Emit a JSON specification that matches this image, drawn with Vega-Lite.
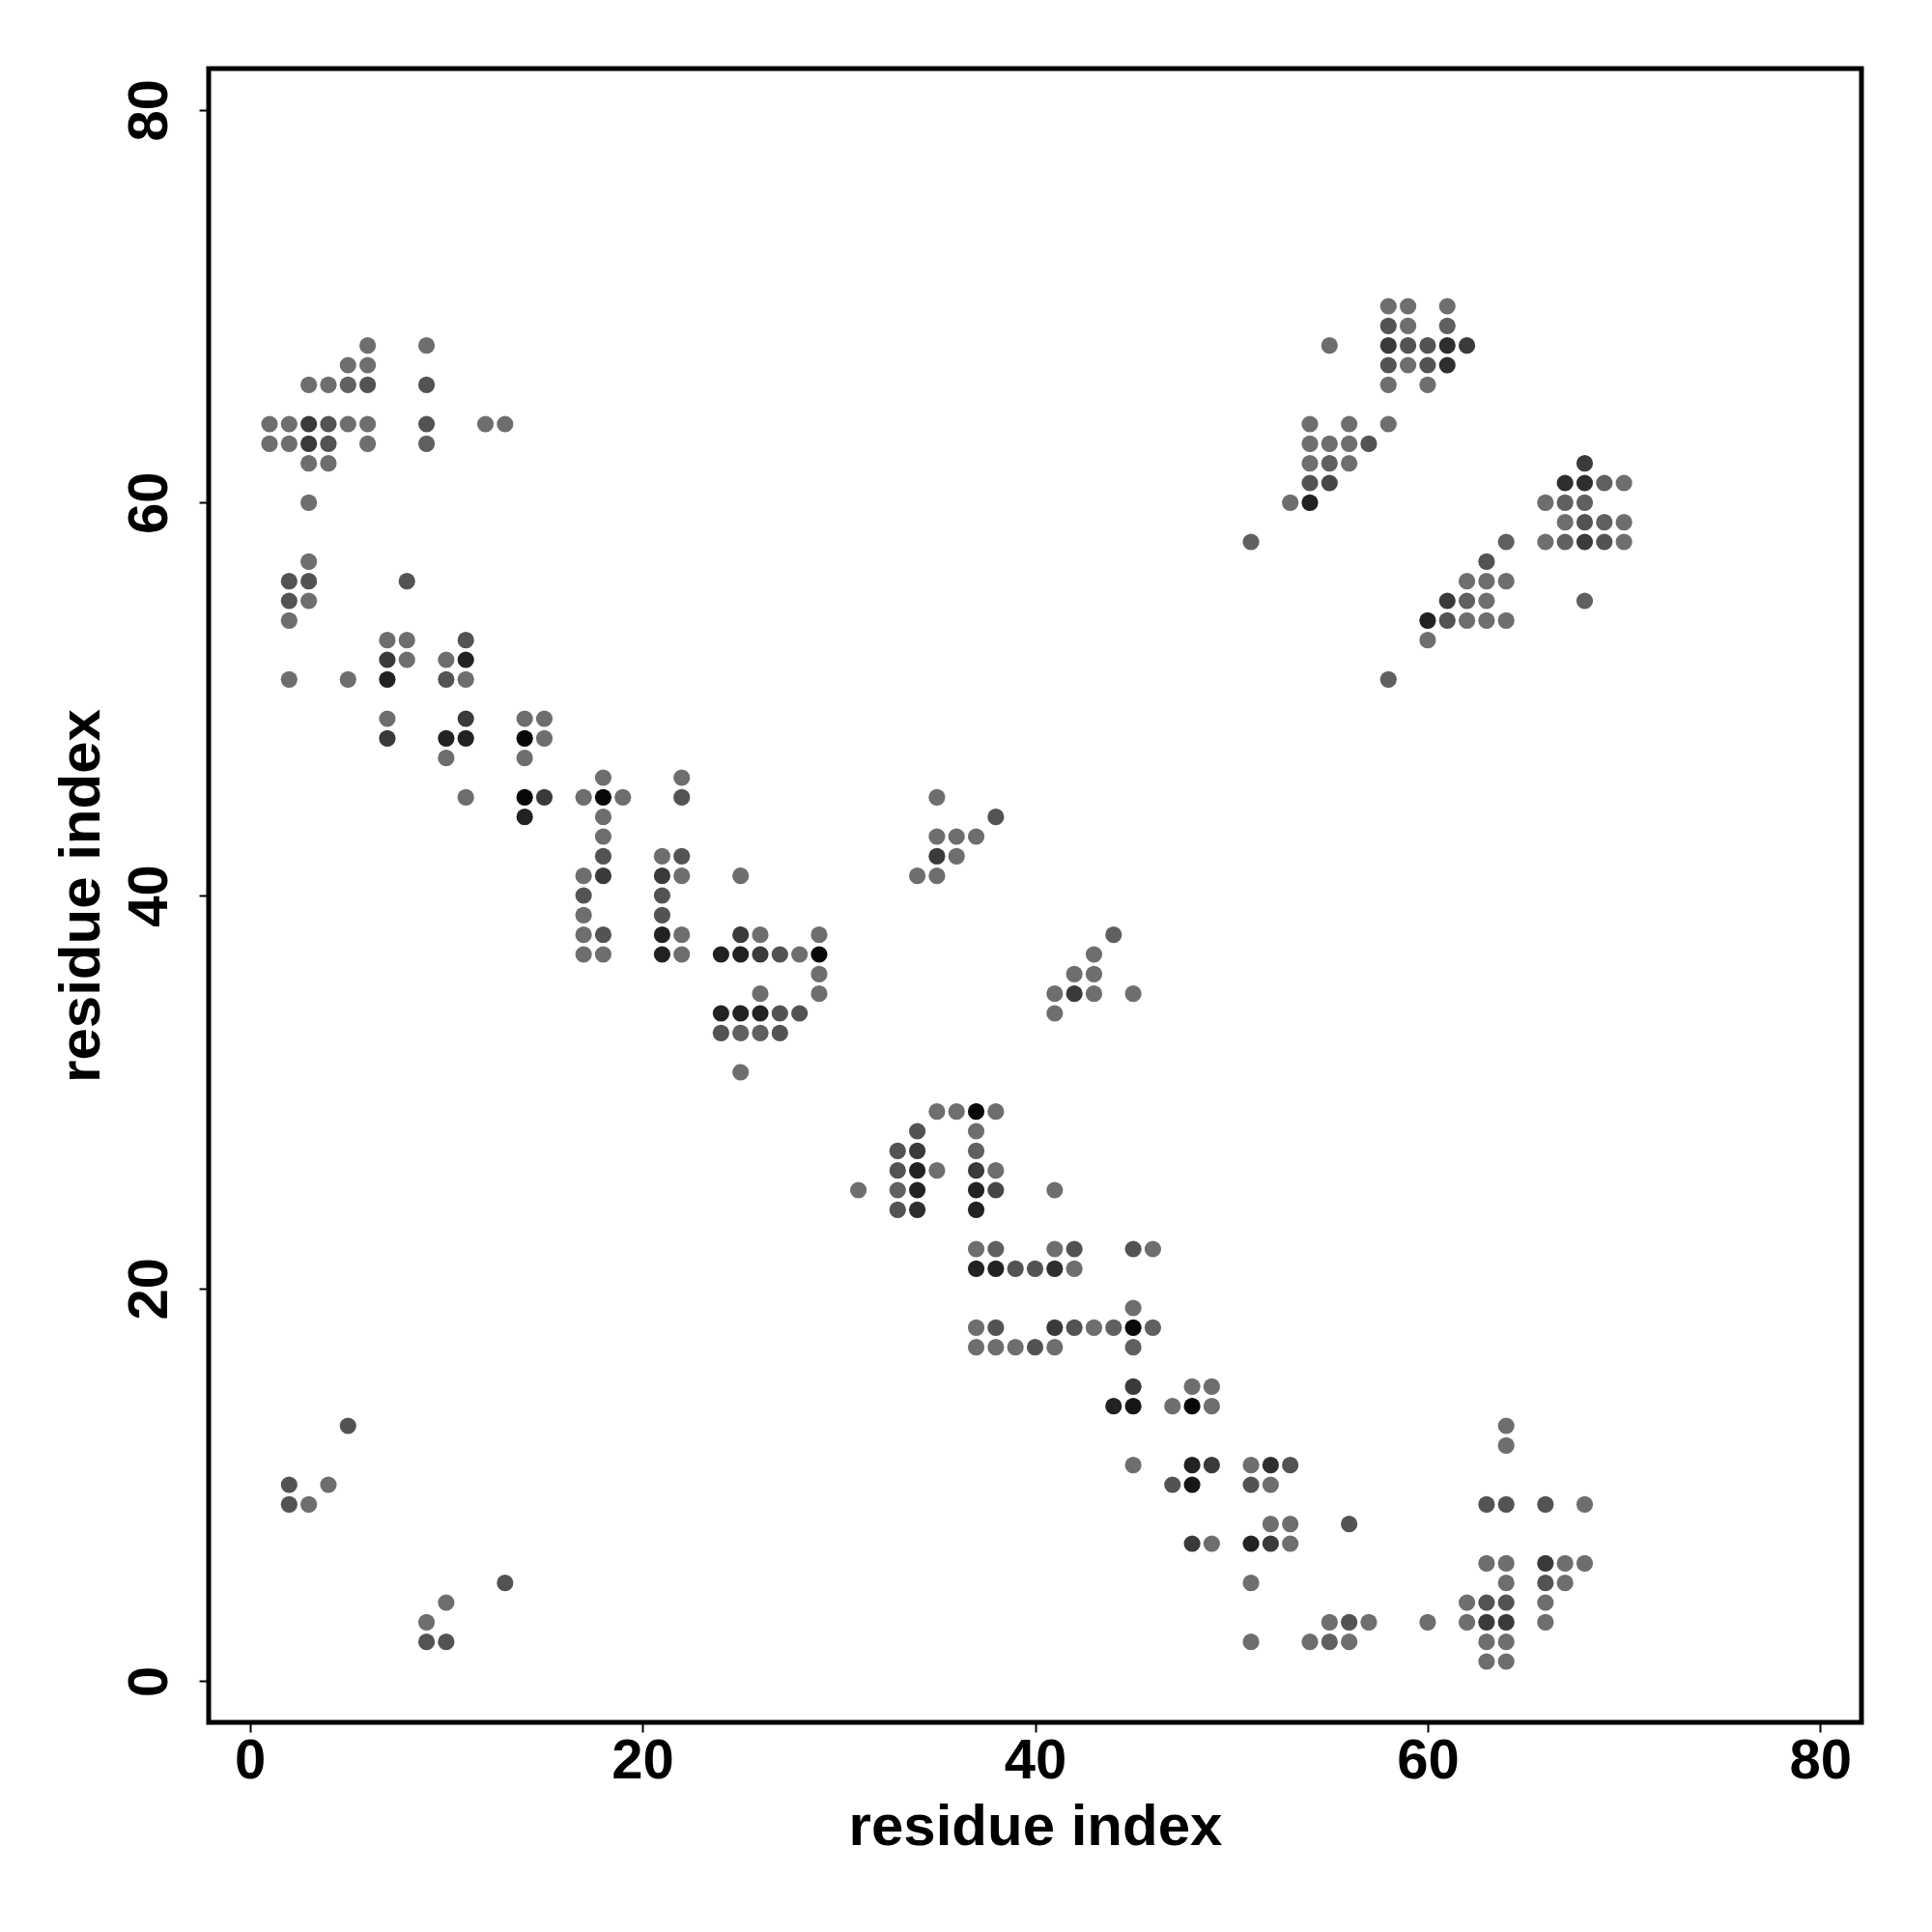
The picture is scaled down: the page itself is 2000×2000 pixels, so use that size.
{
"$schema": "https://vega.github.io/schema/vega-lite/v6.json",
"width": 1711, "height": 1712,
"autosize": {"type": "none"},
"padding": {"left": 216, "top": 71, "right": 73, "bottom": 217},
"background": "white",
"config": {"view": {"stroke": "black", "strokeWidth": 5}, "font": "Liberation Sans"},
"data": {"values": [
{"i":6,"j":68,"p":1},{"i":9,"j":68,"p":1},
{"i":5,"j":67,"p":1},{"i":6,"j":67,"p":1},
{"i":3,"j":66,"p":1},{"i":4,"j":66,"p":1},{"i":5,"j":66,"p":1.5},{"i":6,"j":66,"p":2},{"i":9,"j":66,"p":2},
{"i":1,"j":64,"p":1},{"i":2,"j":64,"p":1},{"i":3,"j":64,"p":3},{"i":4,"j":64,"p":2},{"i":5,"j":64,"p":1},{"i":6,"j":64,"p":1},{"i":9,"j":64,"p":2},{"i":12,"j":64,"p":1},{"i":13,"j":64,"p":1},
{"i":1,"j":63,"p":1},{"i":2,"j":63,"p":1},{"i":3,"j":63,"p":3},{"i":4,"j":63,"p":2},{"i":6,"j":63,"p":1},{"i":9,"j":63,"p":1.5},
{"i":3,"j":62,"p":1},{"i":4,"j":62,"p":1},
{"i":3,"j":60,"p":1},
{"i":3,"j":57,"p":1},
{"i":2,"j":56,"p":2},{"i":3,"j":56,"p":2},{"i":8,"j":56,"p":2},
{"i":2,"j":55,"p":2},{"i":3,"j":55,"p":1},
{"i":2,"j":54,"p":1},
{"i":7,"j":53,"p":1},{"i":8,"j":53,"p":1},{"i":11,"j":53,"p":2},
{"i":7,"j":52,"p":3},{"i":8,"j":52,"p":1},{"i":10,"j":52,"p":1},{"i":11,"j":52,"p":4},
{"i":2,"j":51,"p":1},{"i":5,"j":51,"p":1},{"i":7,"j":51,"p":4},{"i":10,"j":51,"p":2},{"i":11,"j":51,"p":1},
{"i":7,"j":49,"p":1},{"i":11,"j":49,"p":3},{"i":14,"j":49,"p":1},{"i":15,"j":49,"p":1},
{"i":7,"j":48,"p":3},{"i":10,"j":48,"p":4},{"i":11,"j":48,"p":4},{"i":14,"j":48,"p":5},{"i":15,"j":48,"p":1},
{"i":10,"j":47,"p":1},{"i":14,"j":47,"p":1},
{"i":11,"j":45,"p":1},{"i":14,"j":45,"p":5},{"i":15,"j":45,"p":3},{"i":17,"j":45,"p":1},
{"i":14,"j":44,"p":4},
{"i":17,"j":41,"p":1},{"i":17,"j":40,"p":2},{"i":17,"j":39,"p":1},{"i":17,"j":38,"p":1},{"i":17,"j":37,"p":1},
{"i":18,"j":46,"p":1},{"i":22,"j":46,"p":1},
{"i":18,"j":45,"p":5},{"i":19,"j":45,"p":1},{"i":22,"j":45,"p":2},
{"i":18,"j":44,"p":1},
{"i":18,"j":43,"p":1},
{"i":18,"j":42,"p":2},{"i":21,"j":42,"p":1},{"i":22,"j":42,"p":2},
{"i":18,"j":41,"p":3},{"i":21,"j":41,"p":3},{"i":22,"j":41,"p":1},{"i":25,"j":41,"p":1},
{"i":21,"j":40,"p":2},
{"i":21,"j":39,"p":2},
{"i":18,"j":38,"p":2},{"i":21,"j":38,"p":4},{"i":22,"j":38,"p":1},{"i":25,"j":38,"p":3},{"i":26,"j":38,"p":1},{"i":29,"j":38,"p":1},
{"i":18,"j":37,"p":1},{"i":21,"j":37,"p":4},{"i":22,"j":37,"p":1},{"i":24,"j":37,"p":4},{"i":25,"j":37,"p":4},{"i":26,"j":37,"p":3},{"i":27,"j":37,"p":2},{"i":28,"j":37,"p":1},{"i":29,"j":37,"p":5},
{"i":29,"j":36,"p":1},
{"i":26,"j":35,"p":1},{"i":29,"j":35,"p":1},
{"i":24,"j":34,"p":4},{"i":25,"j":34,"p":4},{"i":26,"j":34,"p":4},{"i":27,"j":34,"p":2},{"i":28,"j":34,"p":2},
{"i":24,"j":33,"p":2},{"i":25,"j":33,"p":1.5},{"i":26,"j":33,"p":1.5},{"i":27,"j":33,"p":2},
{"i":25,"j":31,"p":1},
{"i":35,"j":45,"p":1},{"i":38,"j":44,"p":2},{"i":35,"j":43,"p":1},{"i":36,"j":43,"p":1},{"i":37,"j":43,"p":1},{"i":35,"j":42,"p":3},{"i":36,"j":42,"p":1},{"i":34,"j":41,"p":1},{"i":35,"j":41,"p":1},
{"i":44,"j":38,"p":1.5},{"i":43,"j":37,"p":1},{"i":42,"j":36,"p":1},{"i":43,"j":36,"p":1},{"i":41,"j":35,"p":1},{"i":42,"j":35,"p":3},{"i":43,"j":35,"p":1},{"i":45,"j":35,"p":1},{"i":41,"j":34,"p":1},
{"i":35,"j":29,"p":1},{"i":36,"j":29,"p":1},{"i":37,"j":29,"p":5},{"i":38,"j":29,"p":1},
{"i":34,"j":28,"p":2},{"i":37,"j":28,"p":1},
{"i":33,"j":27,"p":2},{"i":34,"j":27,"p":3},{"i":37,"j":27,"p":1.5},
{"i":33,"j":26,"p":2},{"i":34,"j":26,"p":4},{"i":35,"j":26,"p":1},{"i":37,"j":26,"p":3},{"i":38,"j":26,"p":1},
{"i":31,"j":25,"p":1},{"i":33,"j":25,"p":1.5},{"i":34,"j":25,"p":4},{"i":37,"j":25,"p":4},{"i":38,"j":25,"p":2.5},{"i":41,"j":25,"p":1},
{"i":33,"j":24,"p":2},{"i":34,"j":24,"p":3.5},{"i":37,"j":24,"p":4},
{"i":37,"j":22,"p":1},{"i":38,"j":22,"p":1.5},{"i":41,"j":22,"p":1},{"i":42,"j":22,"p":2},{"i":45,"j":22,"p":2},{"i":46,"j":22,"p":1},
{"i":37,"j":21,"p":4},{"i":38,"j":21,"p":4},{"i":39,"j":21,"p":2},{"i":40,"j":21,"p":2},{"i":41,"j":21,"p":3.5},{"i":42,"j":21,"p":1},
{"i":45,"j":19,"p":1},
{"i":37,"j":18,"p":1},{"i":38,"j":18,"p":2},{"i":41,"j":18,"p":3},{"i":42,"j":18,"p":2},{"i":43,"j":18,"p":1},{"i":44,"j":18,"p":1.5},{"i":45,"j":18,"p":5},{"i":46,"j":18,"p":1.5},
{"i":37,"j":17,"p":1},{"i":38,"j":17,"p":1},{"i":39,"j":17,"p":1},{"i":40,"j":17,"p":2},{"i":41,"j":17,"p":1},{"i":45,"j":17,"p":1.5},
{"i":45,"j":15,"p":3},
{"i":44,"j":14,"p":4},{"i":45,"j":14,"p":4.5},
{"i":48,"j":15,"p":1},{"i":49,"j":15,"p":1},
{"i":47,"j":14,"p":1},{"i":48,"j":14,"p":5},{"i":49,"j":14,"p":1},
{"i":45,"j":11,"p":1},{"i":48,"j":11,"p":4},{"i":49,"j":11,"p":3},{"i":51,"j":11,"p":1},{"i":52,"j":11,"p":3.5},{"i":53,"j":11,"p":2},
{"i":47,"j":10,"p":2},{"i":48,"j":10,"p":4.5},{"i":51,"j":10,"p":2},{"i":52,"j":10,"p":1},
{"i":52,"j":8,"p":1},{"i":53,"j":8,"p":1},{"i":56,"j":8,"p":2},
{"i":48,"j":7,"p":3},{"i":49,"j":7,"p":1},{"i":51,"j":7,"p":4},{"i":52,"j":7,"p":3},{"i":53,"j":7,"p":1},
{"i":51,"j":5,"p":1},
{"i":55,"j":3,"p":1},{"i":56,"j":3,"p":2},{"i":57,"j":3,"p":1},{"i":60,"j":3,"p":1},
{"i":51,"j":2,"p":1},{"i":54,"j":2,"p":1},{"i":55,"j":2,"p":1.5},{"i":56,"j":2,"p":1},
{"i":64,"j":13,"p":1},{"i":64,"j":12,"p":1},
{"i":63,"j":9,"p":2},{"i":64,"j":9,"p":2},{"i":66,"j":9,"p":2},{"i":68,"j":9,"p":1},
{"i":63,"j":6,"p":1},{"i":64,"j":6,"p":1},{"i":66,"j":6,"p":3},{"i":67,"j":6,"p":1},{"i":68,"j":6,"p":1},
{"i":64,"j":5,"p":1},{"i":66,"j":5,"p":2},{"i":67,"j":5,"p":1},
{"i":62,"j":4,"p":1},{"i":63,"j":4,"p":2},{"i":64,"j":4,"p":2},{"i":66,"j":4,"p":1},
{"i":62,"j":3,"p":1},{"i":63,"j":3,"p":3},{"i":64,"j":3,"p":3},{"i":66,"j":3,"p":1},
{"i":63,"j":2,"p":1},{"i":64,"j":2,"p":1},
{"i":63,"j":1,"p":1},{"i":64,"j":1,"p":1},
{"i":58,"j":70,"p":1},{"i":59,"j":70,"p":1},{"i":61,"j":70,"p":1},
{"i":58,"j":69,"p":2},{"i":59,"j":69,"p":1},{"i":61,"j":69,"p":1.5},
{"i":55,"j":68,"p":1},{"i":58,"j":68,"p":3},{"i":59,"j":68,"p":2},{"i":60,"j":68,"p":2},{"i":61,"j":68,"p":3.5},{"i":62,"j":68,"p":3},
{"i":58,"j":67,"p":2},{"i":59,"j":67,"p":1},{"i":60,"j":67,"p":2},{"i":61,"j":67,"p":3.5},
{"i":58,"j":66,"p":1},{"i":60,"j":66,"p":1},
{"i":54,"j":64,"p":1},{"i":56,"j":64,"p":1},{"i":58,"j":64,"p":1},
{"i":54,"j":63,"p":1},{"i":55,"j":63,"p":1},{"i":56,"j":63,"p":1},{"i":57,"j":63,"p":2},
{"i":54,"j":62,"p":1},{"i":55,"j":62,"p":1.5},{"i":56,"j":62,"p":1},
{"i":54,"j":61,"p":2},{"i":55,"j":61,"p":2.5},
{"i":53,"j":60,"p":1},{"i":54,"j":60,"p":4},
{"i":51,"j":58,"p":1.5},
{"i":68,"j":62,"p":3},
{"i":67,"j":61,"p":3.5},{"i":68,"j":61,"p":3.5},{"i":69,"j":61,"p":1.5},{"i":70,"j":61,"p":1},
{"i":66,"j":60,"p":1},{"i":67,"j":60,"p":1.5},{"i":68,"j":60,"p":1.5},
{"i":67,"j":59,"p":1},{"i":68,"j":59,"p":2},{"i":69,"j":59,"p":1.5},{"i":70,"j":59,"p":1},
{"i":64,"j":58,"p":1.5},{"i":66,"j":58,"p":1},{"i":67,"j":58,"p":1.5},{"i":68,"j":58,"p":3},{"i":69,"j":58,"p":2},{"i":70,"j":58,"p":1},
{"i":63,"j":57,"p":2},
{"i":62,"j":56,"p":1},{"i":63,"j":56,"p":1},{"i":64,"j":56,"p":1},
{"i":61,"j":55,"p":3},{"i":62,"j":55,"p":1.5},{"i":63,"j":55,"p":1},{"i":68,"j":55,"p":1.5},
{"i":60,"j":54,"p":4},{"i":61,"j":54,"p":2},{"i":62,"j":54,"p":1},{"i":63,"j":54,"p":1},{"i":64,"j":54,"p":1},
{"i":60,"j":53,"p":1},
{"i":58,"j":51,"p":1.5},
{"i":5,"j":13,"p":2},{"i":2,"j":10,"p":2},{"i":4,"j":10,"p":1},{"i":2,"j":9,"p":2},{"i":3,"j":9,"p":1},{"i":13,"j":5,"p":2},{"i":10,"j":4,"p":1},{"i":9,"j":3,"p":1},{"i":9,"j":2,"p":2},{"i":10,"j":2,"p":2}
]},
"mark": {"type": "circle", "size": 295, "opacity": 1},
"encoding": {
  "x": {"field": "i", "type": "quantitative",
    "scale": {"domain": [-2.1, 82.1], "nice": false, "zero": false},
    "axis": {"title": "residue index", "values": [0, 20, 40, 60, 80], "grid": false, "domain": false,
      "tickSize": 10, "tickWidth": 2, "tickColor": "black",
      "labelFont": "Liberation Sans", "labelFontSize": 58, "labelFontWeight": "bold", "labelColor": "black",
      "labelBaseline": "alphabetic", "labelPadding": 47, "labelFlush": false, "labelOverlap": false,
      "titleFont": "Liberation Sans", "titleFontSize": 60, "titleFontWeight": "bold", "titleColor": "black",
      "titleBaseline": "alphabetic", "titleAlign": "center", "titleX": 855.5, "titleY": 126}},
  "y": {"field": "j", "type": "quantitative",
    "scale": {"domain": [-2.1, 82.1], "nice": false, "zero": false},
    "axis": {"title": "residue index", "values": [0, 20, 40, 60, 80], "grid": false, "domain": false,
      "tickSize": 10, "tickWidth": 2, "tickColor": "black",
      "labelFont": "Liberation Sans", "labelFontSize": 58, "labelFontWeight": "bold", "labelColor": "black",
      "labelAngle": 270, "labelAlign": "center", "labelBaseline": "alphabetic", "labelPadding": 34,
      "labelFlush": false, "labelOverlap": false,
      "titleFont": "Liberation Sans", "titleFontSize": 60, "titleFontWeight": "bold", "titleColor": "black",
      "titleAngle": 270, "titleBaseline": "alphabetic", "titleAlign": "center", "titleX": -114, "titleY": 856}},
  "color": {"field": "p", "type": "quantitative",
    "scale": {"domain": [1, 5], "range": ["#6e6e6e", "#080808"]}, "legend": null}
}
}
